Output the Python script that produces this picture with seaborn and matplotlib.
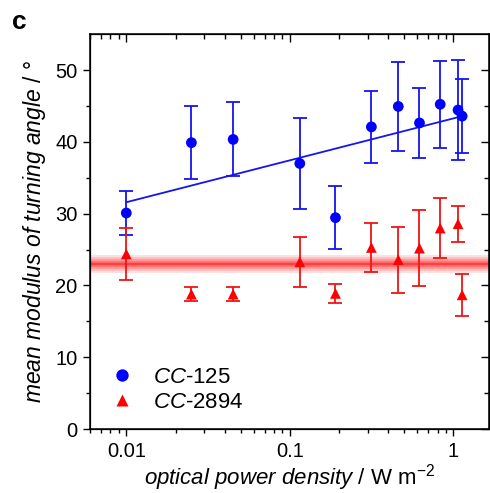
import numpy as np
import pandas as pd
import matplotlib
matplotlib.use("Agg")
import matplotlib.pyplot as plt
import seaborn as sns

# values
power = [0.01, 0.025, 0.045, 0.115, 0.19, 0.315, 0.46, 0.62, 0.83, 1.067, 1.13]
cc125_mean = [30.1, 39.9, 40.35, 37.0, 29.45, 42.1, 44.95, 42.65, 45.25, 44.45, 43.6]
cc125_err = [3.1, 5.1, 5.15, 6.3, 4.35, 5.0, 6.15, 4.85, 6.1, 6.95, 5.2]
cc2894_mean = [24.4, 18.8, 18.8, 23.3, 18.9, 25.3, 23.6, 25.2, 28.0, 28.6, 18.7]
cc2894_err = [3.6, 1.0, 1.0, 3.5, 1.3, 3.45, 4.6, 5.3, 4.2, 2.5, 2.9]
fit_x = [0.01, 1.067]
fit_y = [31.6, 43.45]
band_level = 23.0

sns.set_style("ticks")
plt.rcParams['font.family'] = ['Liberation Sans', 'DejaVu Sans']
plt.rcParams['mathtext.fontset'] = 'custom'
plt.rcParams['mathtext.rm'] = 'Liberation Sans'
plt.rcParams['mathtext.it'] = 'Liberation Sans:italic'
plt.rcParams['mathtext.bf'] = 'Liberation Sans:bold'
for k in ['text.color', 'axes.labelcolor', 'xtick.color', 'ytick.color', 'axes.edgecolor']:
    plt.rcParams[k] = 'black'

df = pd.DataFrame({
    'power': power * 2,
    'angle': cc125_mean + cc2894_mean,
    'strain': [r'$\it{CC}$-125'] * len(power) + [r'$\it{CC}$-2894'] * len(power),
})

fig = plt.figure(figsize=(4.9, 4.93), dpi=100)
ax = fig.add_axes([0.1837, 0.1298, 0.998 - 0.1837, 0.9304 - 0.1298])

# soft red band for the CC-2894 mean
for lw, a in [(13, 0.12), (10, 0.15), (7, 0.2), (4, 0.3), (1.5, 0.4)]:
    ax.axhline(band_level, color='red', lw=lw, alpha=a, zorder=1)

ax.errorbar(power, cc125_mean, yerr=cc125_err, fmt='none', ecolor='#1414f0',
            elinewidth=1.3, capsize=5, capthick=1.3, zorder=2)
ax.errorbar(power, cc2894_mean, yerr=cc2894_err, fmt='none', ecolor='#f01414',
            elinewidth=1.3, capsize=5, capthick=1.3, zorder=2)
sns.lineplot(x=fit_x, y=fit_y, color='#1414f0', lw=1.3, ax=ax, zorder=2)
sns.scatterplot(data=df, x='power', y='angle', hue='strain', style='strain',
                palette=['#0000ff', '#ff0000'], markers=['o', '^'], s=60,
                edgecolor='none', ax=ax, zorder=3)

ax.set_xscale('log')
ax.set_xlim(0.006, 1.65)
ax.set_ylim(0, 55)
ax.set_yticks([0, 10, 20, 30, 40, 50])
ax.set_yticks(np.arange(5, 55, 10), minor=True)
ax.set_xticks([0.01, 0.1, 1])
ax.set_xticklabels(['0.01', '0.1', '1'])
ax.tick_params(which='major', direction='out', length=5, width=1, labelsize=14.5, pad=4)
ax.tick_params(which='minor', direction='out', length=3, width=1)
for s in ax.spines.values():
    s.set_linewidth(1.1)

# inward ticks on top and right
axt = ax.twiny()
axt.set_xscale('log')
axt.set_xlim(ax.get_xlim())
axt.tick_params(axis='x', which='both', direction='in', labeltop=False, top=True)
axt.tick_params(axis='x', which='major', length=6, width=1)
axt.tick_params(axis='x', which='minor', length=3.5, width=1)
axt.set_xticks([0.01, 0.1, 1])
axr = ax.twinx()
axr.set_ylim(ax.get_ylim())
axr.set_yticks([0, 10, 20, 30, 40, 50])
axr.set_yticks(np.arange(5, 55, 10), minor=True)
axr.tick_params(axis='y', which='both', direction='in', labelright=False, right=True)
axr.tick_params(axis='y', which='major', length=6, width=1)
axr.tick_params(axis='y', which='minor', length=3.5, width=1)

ax.set_xlabel(r'$\it{optical\ power\ density}$ / W m$^{-2}$', fontsize=16, labelpad=1)
ax.set_ylabel(r'$\it{mean\ modulus\ of\ turning\ angle}$ / °', fontsize=16.5, labelpad=5)

leg = ax.legend(loc='lower left', bbox_to_anchor=(-0.025, -0.01), frameon=False, fontsize=16,
                handletextpad=0.4, labelspacing=0.2, borderaxespad=0.5, markerscale=1.15)

fig.text(0.025, 0.955, 'c', fontsize=19, fontweight='bold', va='center')

plt.savefig('out.png', dpi=100)
